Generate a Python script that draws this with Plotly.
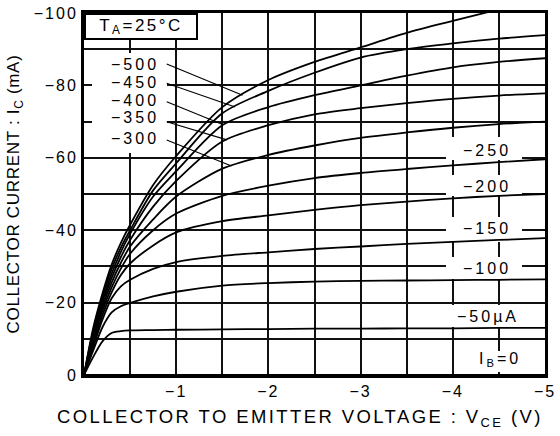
import numpy as np
import plotly.graph_objects as go

# ---------------- data ----------------
vce = [0, -0.1, -0.2, -0.3, -0.4, -0.5, -0.75, -1, -1.5, -2, -2.5, -3, -3.5, -4, -4.5, -5]

# collector current magnitudes (mA) for each base current
ic_ib0   = [0, 0, 0, 0, 0, 0, 0, 0, 0, 0, 0, 0, 0, 0, 0, 0]
ic_ib50  = [0, 5.0, 9.3, 11.6, 12.1, 12.3, 12.4, 12.5, 12.6, 12.7, 12.8, 12.8, 12.9, 12.9, 13.0, 13.0]
ic_ib100 = [0, 6.8, 13.2, 17.3, 19.0, 19.9, 21.7, 23.0, 24.7, 25.4, 25.8, 26.0, 26.1, 26.2, 26.3, 26.4]
ic_ib150 = [0, 7.8, 15.3, 21.2, 24.5, 26.3, 29.3, 31.2, 32.9, 33.9, 34.8, 35.5, 36.2, 36.8, 37.3, 37.8]
ic_ib200 = [0, 8.5, 16.5, 22.8, 27.6, 30.8, 35.8, 39.4, 42.5, 44.1, 45.6, 46.9, 47.9, 48.8, 49.5, 50.0]
ic_ib250 = [0, 9.2, 17.7, 24.2, 29.4, 33.5, 40.0, 44.6, 49.5, 52.3, 54.4, 55.8, 56.9, 57.9, 58.8, 59.6]
ic_ib300 = [0, 10.0, 18.7, 25.5, 31.0, 35.5, 43.0, 49.3, 57.0, 60.8, 63.4, 65.5, 67.0, 68.3, 69.3, 70.0]
ic_ib350 = [0, 10.8, 19.6, 26.8, 32.6, 37.3, 46.5, 53.6, 64.5, 69.0, 72.0, 73.7, 75.1, 76.3, 77.2, 77.8]
ic_ib400 = [0, 11.5, 20.5, 28.0, 34.0, 39.0, 49.3, 56.3, 69.0, 74.0, 77.3, 80.0, 82.7, 85.0, 86.5, 87.5]
ic_ib450 = [0, 12.3, 21.5, 29.3, 35.2, 40.0, 51.0, 58.5, 72.3, 78.5, 83.5, 87.7, 90.0, 91.6, 92.9, 93.9]
ic_ib500 = [0, 13.0, 22.5, 30.5, 36.5, 41.5, 52.5, 60.5, 74.0, 81.5, 86.5, 90.5, 94.5, 97.8, 101.0, 104.0]

x_tickvals = [-1, -2, -3, -4, -5]
x_ticktext = ["\u22121", "\u22122", "\u22123", "\u22124", "\u22125"]
y_tickvals = [0, -20, -40, -60, -80, -100]
y_ticktext = ["0", "\u221220", "\u221240", "\u221260", "\u221280", "\u2212100"]

# curve labels
left_labels = ["\u2212500", "\u2212450", "\u2212400", "\u2212350", "\u2212300"]
right_labels = ["\u2212250", "\u2212200", "\u2212150", "\u2212100", "\u221250\u00b5A", "I<sub>B</sub>=0"]

series = [ic_ib0, ic_ib50, ic_ib100, ic_ib150, ic_ib200, ic_ib250,
          ic_ib300, ic_ib350, ic_ib400, ic_ib450, ic_ib500]

# ---------------- layout helpers (pixel -> data for text placement) ----------------
X0, XS = 84.0, 92.2   # px of Vce=0, px per volt
Y0, YS = 375.0, 3.62  # px of Ic=0, px per mA


def pv(px):
    return -(px - X0) / XS


def pi(py):
    return -(Y0 - py) / YS


def sp(text, ls):
    return f"<span style='letter-spacing:{ls}px'>{text}</span>"


FONT = "Liberation Sans, Arial, sans-serif"

fig = go.Figure()
for s in series:
    fig.add_trace(go.Scatter(
        x=vce, y=[-v for v in s], mode="lines",
        line=dict(color="black", width=1.8, shape="spline", smoothing=0.8),
        hoverinfo="skip", showlegend=False))

# white patches hiding grid behind labels
patches = [(92, 53, 167, 153),
           (446, 137, 522, 160), (446, 175, 522, 196), (446, 217, 522, 242),
           (446, 257, 522, 279), (450, 305, 526, 327), (474, 351, 526, 372)]
for (xa, ya, xb, yb) in patches:
    fig.add_shape(type="rect", xref="x", yref="y", x0=pv(xa), x1=pv(xb), y0=pi(ya), y1=pi(yb),
                  fillcolor="white", line=dict(width=0), layer="between")

annotations = []
# TA box
annotations.append(dict(xref="paper", yref="paper", x=0, y=1, xanchor="left", yanchor="top",
                        text=sp("T<sub>A</sub>=25\u00b0C", 2.5), showarrow=False,
                        font=dict(size=17, family=FONT, color="black"),
                        bgcolor="white", bordercolor="black", borderwidth=2,
                        width=110, height=23, borderpad=0))

# left labels with leader lines
left_y = [64.5, 82.5, 100, 117.5, 138.5]
left_series = [ic_ib500, ic_ib450, ic_ib400, ic_ib350, ic_ib300]
head_v = [-1.72, -1.64, -1.51, -1.55, -1.60]
tail_py = [64, 83.3, 101.7, 121.7, 140]
for lab, py, s, hv, ty in zip(left_labels, left_y, left_series, head_v, tail_py):
    annotations.append(dict(x=pv(135), y=pi(py), xref="x", yref="y", text=sp(lab, 3),
                            showarrow=False, xanchor="center", yanchor="middle",
                            font=dict(size=16, family=FONT, color="black")))
    hy = -float(np.interp(-hv, [-v for v in vce], s))
    fig.add_shape(type="line", xref="x", yref="y", x0=pv(166.7), y0=pi(ty), x1=hv, y1=hy,
                  line=dict(color="black", width=1.1), layer="above")

# right labels
right_pos = [(487, 150), (487, 186), (487, 228.5), (487, 268.5), (488, 316.7), (500, 359)]
for lab, (px, py) in zip(right_labels, right_pos):
    annotations.append(dict(x=pv(px), y=pi(py), xref="x", yref="y", text=sp(lab, 3),
                            showarrow=False, xanchor="center", yanchor="middle",
                            font=dict(size=16, family=FONT, color="black")))

# x axis title (centred as in the reference)
annotations.append(dict(xref="paper", yref="paper", x=(300 - X0) / 461, y=-(418 - Y0) / 362,
                        xanchor="center", yanchor="middle", showarrow=False,
                        text=sp("COLLECTOR TO EMITTER VOLTAGE : V<sub>CE</sub> (V)", 2.4),
                        font=dict(size=18.5, family=FONT, color="black")))

grid = dict(showgrid=True, gridcolor="#111111", gridwidth=1.5)
fig.update_layout(
    width=560, height=436,
    margin=dict(l=84, r=15, t=13, b=61, autoexpand=False),
    plot_bgcolor="white", paper_bgcolor="white",
    showlegend=False,
    font=dict(family=FONT, color="black", size=16),
    annotations=annotations,
    xaxis=dict(range=[0, -5], tickmode="array", tickvals=x_tickvals,
               ticktext=[sp(t, 2) for t in x_ticktext],
               **grid,
               minor=dict(tickmode="linear", tick0=0, dtick=0.5, showgrid=True,
                          gridcolor="#111111", gridwidth=1.5),
               showline=True, linewidth=3, linecolor="black", mirror=True,
               zeroline=False, ticks="", automargin=False,
               tickfont=dict(size=16, family=FONT, color="black")),
    yaxis=dict(range=[0, -100], tickmode="array", tickvals=y_tickvals,
               ticktext=[sp(t, 2) for t in y_ticktext],
               **grid,
               minor=dict(tickmode="linear", tick0=0, dtick=10, showgrid=True,
                          gridcolor="#111111", gridwidth=1.5),
               showline=True, linewidth=3, linecolor="black", mirror=True,
               zeroline=False, ticks="", automargin=False,
               tickfont=dict(size=16, family=FONT, color="black"),
               title=dict(text=sp("COLLECTOR CURRENT : I<sub>C</sub> (mA)", 0.7),
                          font=dict(size=17, family=FONT, color="black"), standoff=10)),
)

fig.write_html("out.html")
